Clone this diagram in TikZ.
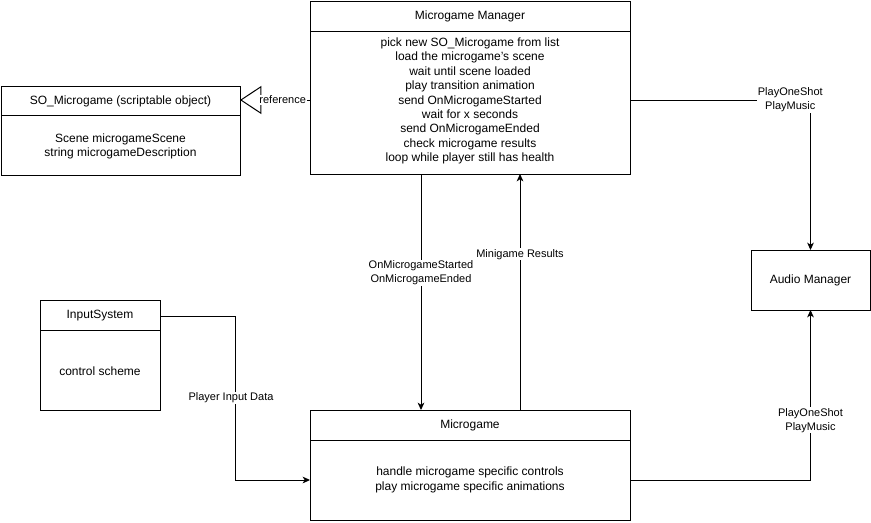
\documentclass[tikz,border=0pt]{standalone}
\usepackage{fontspec}
\setmainfont{Liberation Sans}
\usetikzlibrary{arrows.meta,calc}
\begin{document}
\begin{tikzpicture}[x=0.75pt,y=-0.75pt,
  box/.style={draw,line width=0.75pt,fill=white,outer sep=0pt,inner sep=0pt},
  txt/.style={font=\fontsize{9}{10.8}\selectfont,align=center,inner sep=1pt},
  lbl/.style={font=\fontsize{8.25}{10.5}\selectfont,align=center,fill=white,inner sep=0.5pt},
  arr/.style={draw,line width=0.75pt,-{Stealth[length=5.5pt,width=5pt,inset=1.5pt]}},
  refarr/.style={draw,line width=0.75pt,-{Triangle[open,length=16pt,width=21pt,fill=white]}},
  dline/.style={line width=0.75pt}]
\useasboundingbox (0,0) rectangle (871,522);
% boxes
\node[box,minimum width=240pt,minimum height=129.75pt] (mgr) at (470,87.5) {};
\node[box,minimum width=179.25pt,minimum height=66.75pt] (so) at (120.5,130.5) {};
\node[box,minimum width=89.25pt,minimum height=45pt] (am) at (810.5,280) {};
\node[box,minimum width=90pt,minimum height=82.5pt] (in) at (100,355) {};
\node[box,minimum width=240pt,minimum height=82.5pt] (mg) at (470,465) {};
% dividers
\draw[dline] ($(mgr.north west)+(0,30)$) -- ($(mgr.north east)+(0,30)$);
\draw[dline] ($(so.north west)+(0,29)$) -- ($(so.north east)+(0,29)$);
\draw[dline] ($(in.north west)+(0,30)$) -- ($(in.north east)+(0,30)$);
\draw[dline] ($(mg.north west)+(0,30)$) -- ($(mg.north east)+(0,30)$);
% texts
\node[txt] (mgrt) at (470,16) {Microgame Manager};
\node[txt] (mgrb) at (470,101) {pick new SO\_Microgame from list\\load the microgame's scene\\wait until scene loaded\\play transition animation\\send OnMicrogameStarted\\wait for x seconds\\send OnMicrogameEnded\\check microgame results\\loop while player still has health};
\node[txt] (sot) at (120.5,101) {SO\_Microgame (scriptable object)};
\node[txt] (sob) at (120.5,146.5) {Scene microgameScene\\string microgameDescription};
\node[txt] (amt) at (810.5,280) {Audio Manager};
\node[txt] (int) at (100,316) {InputSystem};
\node[txt] (inb) at (100,371) {control scheme};
\node[txt] (mgt) at (470,425) {Microgame};
\node[txt] (mgb) at (470,480) {handle microgame specific controls\\play microgame specific animations};
% connectors
\draw[refarr] ($(mgr.west)+(0,12.5)$) -- node[lbl,pos=0.39] (reflbl) {reference} ($(so.east)+(0,-30.5)$);
\draw[arr] ($(mgr.east)+(0,12.5)$) -| node[lbl,pos=0.444] (l1) {PlayOneShot\\PlayMusic} (am.north);
\draw[arr] ($(mgr.south west)+(111,0)$) -- node[lbl,pos=0.42] (l2) {OnMicrogameStarted\\OnMicrogameEnded} ($(mg.north west)+(111,0)$);
\draw[arr] ($(mg.north west)+(210,0)$) -- node[lbl,pos=0.66] (l3) {Minigame Results} ($(mgr.south west)+(210,0)$);
\coordinate (bend) at (235,480);
\draw[arr] ($(in.north east)+(0,16)$) -| node[lbl,pos=0.75,xshift=-3pt] (l4) {Player Input Data} (bend) -- ($(mg.west)+(0,15)$);
\draw[arr] ($(mg.east)+(0,15)$) -| node[lbl,pos=0.676] (l5) {PlayOneShot\\PlayMusic} (am.south);
\end{tikzpicture}
\end{document}
